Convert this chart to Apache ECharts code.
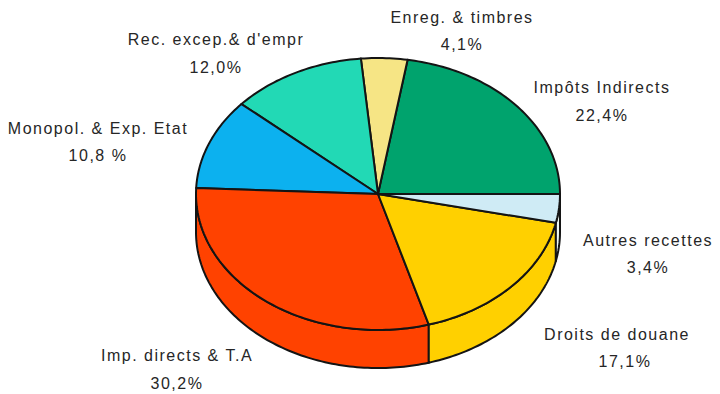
<!DOCTYPE html>
<html>
<head>
<meta charset="utf-8">
<style>html,body{margin:0;padding:0;background:#fff}#c{width:720px;height:394px}#c svg text{letter-spacing:1.5px}</style>
<script src="https://cdn.jsdelivr.net/npm/echarts@6/dist/echarts.min.js"></script>
</head>
<body>
<div id="c"></div>
<script>
// Data, in drawing order counter-clockwise from the east point of the ellipse
const categories = ['Impôts Indirects', 'Enreg. & timbres', "Rec. excep.& d'empr", 'Monopol. & Exp. Etat', 'Imp. directs & T.A', 'Droits de douane', 'Autres recettes'];
const shares = [22.4, 4.1, 12.0, 10.8, 30.2, 17.1, 3.4];
const shareLabels = ['22,4%', '4,1%', '12,0%', '10,8 %', '30,2%', '17,1%', '3,4%'];

// Styling and layout, separate from the data
const topColors = ['#00A36D', '#F6E585', '#22D9B5', '#0CB1EF', '#FF4200', '#FFD000', '#CFEBF5'];
const wallColors = ['#00A36D', '#F6E585', '#22D9B5', '#0CB1EF', '#FF4200', '#FFD000', '#EEF8F2'];
const nameAnchors = [[602, 87], [462, 17], [216, 39], [98, 128], [177, 355], [617, 334], [648, 240]];
const shareAnchors = [[602, 115], [462, 44], [216, 67], [98, 155], [177, 383], [625, 361], [648, 267]];
const DEPTH = 0.28;  // wall height in y-axis units (1 unit = the ellipse's vertical radius)
const INK = '#141414';
const FONT = '16px "Liberation Sans", Arial, sans-serif';

const total = shares.reduce((a, b) => a + b, 0);
let running = 0;
const sliceRows = shares.map((v, i) => {
  const from = running / total * 2 * Math.PI;
  running += v;
  return [from, running / total * 2 * Math.PI, i];
});

function arcPoints(a0, a1, drop) {
  const n = Math.max(2, Math.ceil((a1 - a0) / 0.02));
  const out = [];
  for (let k = 0; k <= n; k++) {
    const a = a0 + (a1 - a0) * k / n;
    out.push([Math.cos(a), Math.sin(a) - drop]);
  }
  return out;
}

function renderTop(params, api) {
  const a0 = api.value(0), a1 = api.value(1), i = api.value(2);
  const pts = [[0, 0]].concat(arcPoints(a0, a1, 0)).map(p => api.coord(p));
  return {
    type: 'polygon',
    shape: { points: pts },
    style: { fill: topColors[i], stroke: INK, lineWidth: 2, lineJoin: 'round' }
  };
}

function renderWall(params, api) {
  const lo = Math.max(api.value(0), Math.PI), hi = api.value(1), i = api.value(2);
  if (hi <= lo) return null;
  const upper = arcPoints(lo, hi, 0);
  const lower = arcPoints(lo, hi, DEPTH).reverse();
  const pts = upper.concat(lower).map(p => api.coord(p));
  return {
    type: 'polygon',
    shape: { points: pts },
    style: { fill: wallColors[i], stroke: INK, lineWidth: 2, lineJoin: 'round' }
  };
}

function labelText(text, at) {
  return {
    type: 'text', x: at[0], y: at[1], silent: true,
    style: { text, font: FONT, fill: '#262626', textAlign: 'center', textVerticalAlign: 'middle' }
  };
}

const option = {
  animation: false,
  backgroundColor: '#fff',
  grid: { left: 196, width: 364, top: 58, height: 312.8 },
  xAxis: { type: 'value', min: -1, max: 1, show: false },
  yAxis: { type: 'value', min: -1.3, max: 1, show: false },
  series: [
    { type: 'custom', coordinateSystem: 'cartesian2d', clip: false, silent: true, z: 1, data: sliceRows, renderItem: renderWall },
    { type: 'custom', coordinateSystem: 'cartesian2d', clip: false, silent: true, z: 2, data: sliceRows, renderItem: renderTop }
  ],
  graphic: { elements: categories.map((c, i) => labelText(c, nameAnchors[i])).concat(shareLabels.map((s, i) => labelText(s, shareAnchors[i]))) }
};

echarts.init(document.getElementById('c'), null, { renderer: 'svg' }).setOption(option);
</script>
</body>
</html>
